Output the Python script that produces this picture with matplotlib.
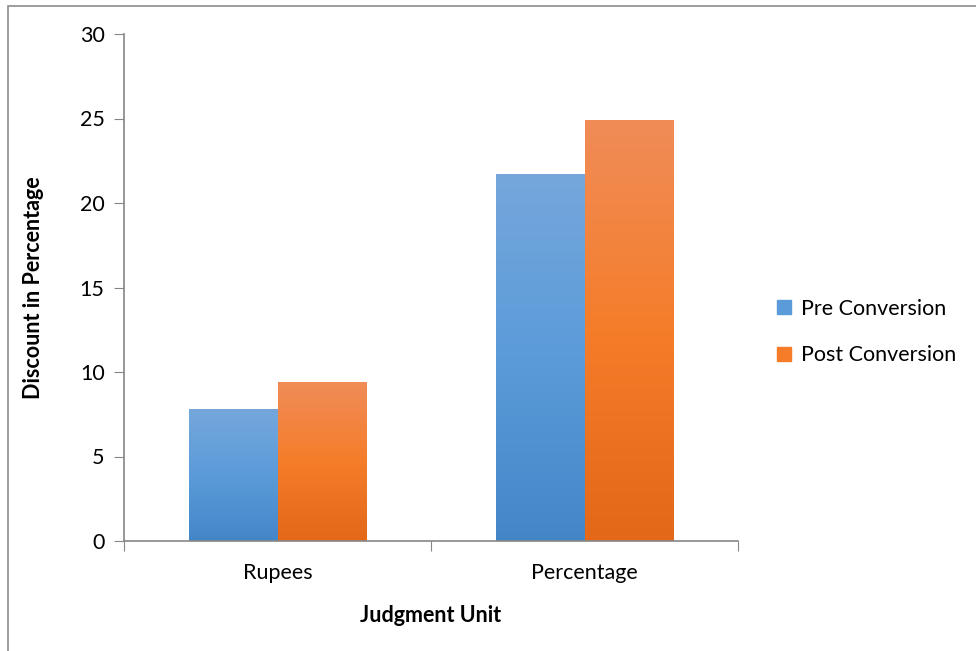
import numpy as np
import matplotlib.pyplot as plt
from matplotlib.colors import LinearSegmentedColormap
from matplotlib.patches import Rectangle

plt.rcParams['font.family'] = ['Lato', 'DejaVu Sans']

categories = ['Rupees', 'Percentage']
series_names = ['Pre Conversion', 'Post Conversion']
pre_values = [7.8, 21.7]
post_values = [9.4, 24.9]
yticks = [0, 5, 10, 15, 20, 25, 30]

# gradient colours, top -> bottom
blue_grad = ['#75a7dc', '#5b9bd9', '#4386c8']
orange_grad = ['#f08c58', '#f57d2a', '#e36818']

fig = plt.figure(figsize=(9.76, 6.51), dpi=100)
ax = fig.add_axes([124 / 976, 110 / 651, 614 / 976, 507 / 651])

x = np.arange(len(categories))
width = 0.287

def gradient_bars(xs, vals, cols):
    cmap = LinearSegmentedColormap.from_list('g', cols[::-1])
    bars = ax.bar(xs, vals, width, color=cols[1], linewidth=0, zorder=2)
    grad = np.linspace(0, 1, 256).reshape(-1, 1)
    for b in bars:
        x0, y0 = b.get_x(), b.get_y()
        w, h = b.get_width(), b.get_height()
        # soft shadow
        ax.add_patch(Rectangle((x0 + 0.006, y0 - 0.15), w, h, color='#000000',
                               alpha=0.12, linewidth=0, zorder=1))
        im = ax.imshow(grad, cmap=cmap, aspect='auto', origin='lower',
                       extent=[x0, x0 + w, y0, y0 + h], zorder=3)
        im.set_clip_path(b)
    return bars

b1 = gradient_bars(x - width / 2, pre_values, blue_grad)
b2 = gradient_bars(x + width / 2, post_values, orange_grad)

ax.set_xlim(-0.5, 1.5)
ax.set_ylim(0, 30)
ax.set_yticks(yticks)
ax.set_xticks([-0.5, 0.5, 1.5], minor=False)
ax.set_xticklabels([])
ax.set_xticks(x, minor=True)
ax.set_xticklabels(categories, minor=True, fontsize=15.5)
ax.tick_params(axis='x', which='minor', length=0, pad=16)
ax.tick_params(axis='x', which='major', length=7, color='#868686')
ax.tick_params(axis='y', length=7, color='#868686', labelsize=15.5, pad=7)

for s in ['top', 'right']:
    ax.spines[s].set_visible(False)
for s in ['left', 'bottom']:
    ax.spines[s].set_color('#868686')
    ax.spines[s].set_linewidth(1.2)
ax.spines['bottom'].set_zorder(5)

ax.set_xlabel('Judgment Unit', fontsize=15.5, fontweight='bold', labelpad=16)
ax.set_ylabel('Discount in Percentage', fontsize=15.5, fontweight='bold', labelpad=26)

handles = [Rectangle((0, 0), 1, 1, color=blue_grad[1]),
           Rectangle((0, 0), 1, 1, color=orange_grad[1])]
fig.legend(handles, series_names, loc='center left', bbox_to_anchor=(758 / 976, 1 - 332 / 651),
           frameon=False, fontsize=15.5, handlelength=0.65, handleheight=0.65,
           handletextpad=0.45, labelspacing=1.25)

# chart border
fig.add_artist(Rectangle((7.5 / 976, -0.1), 1.2, 1 - 5.5 / 651 + 0.1, transform=fig.transFigure,
                         fill=False, edgecolor='#8c8c8c', linewidth=1.2))

fig.savefig('out.png', dpi=100)
